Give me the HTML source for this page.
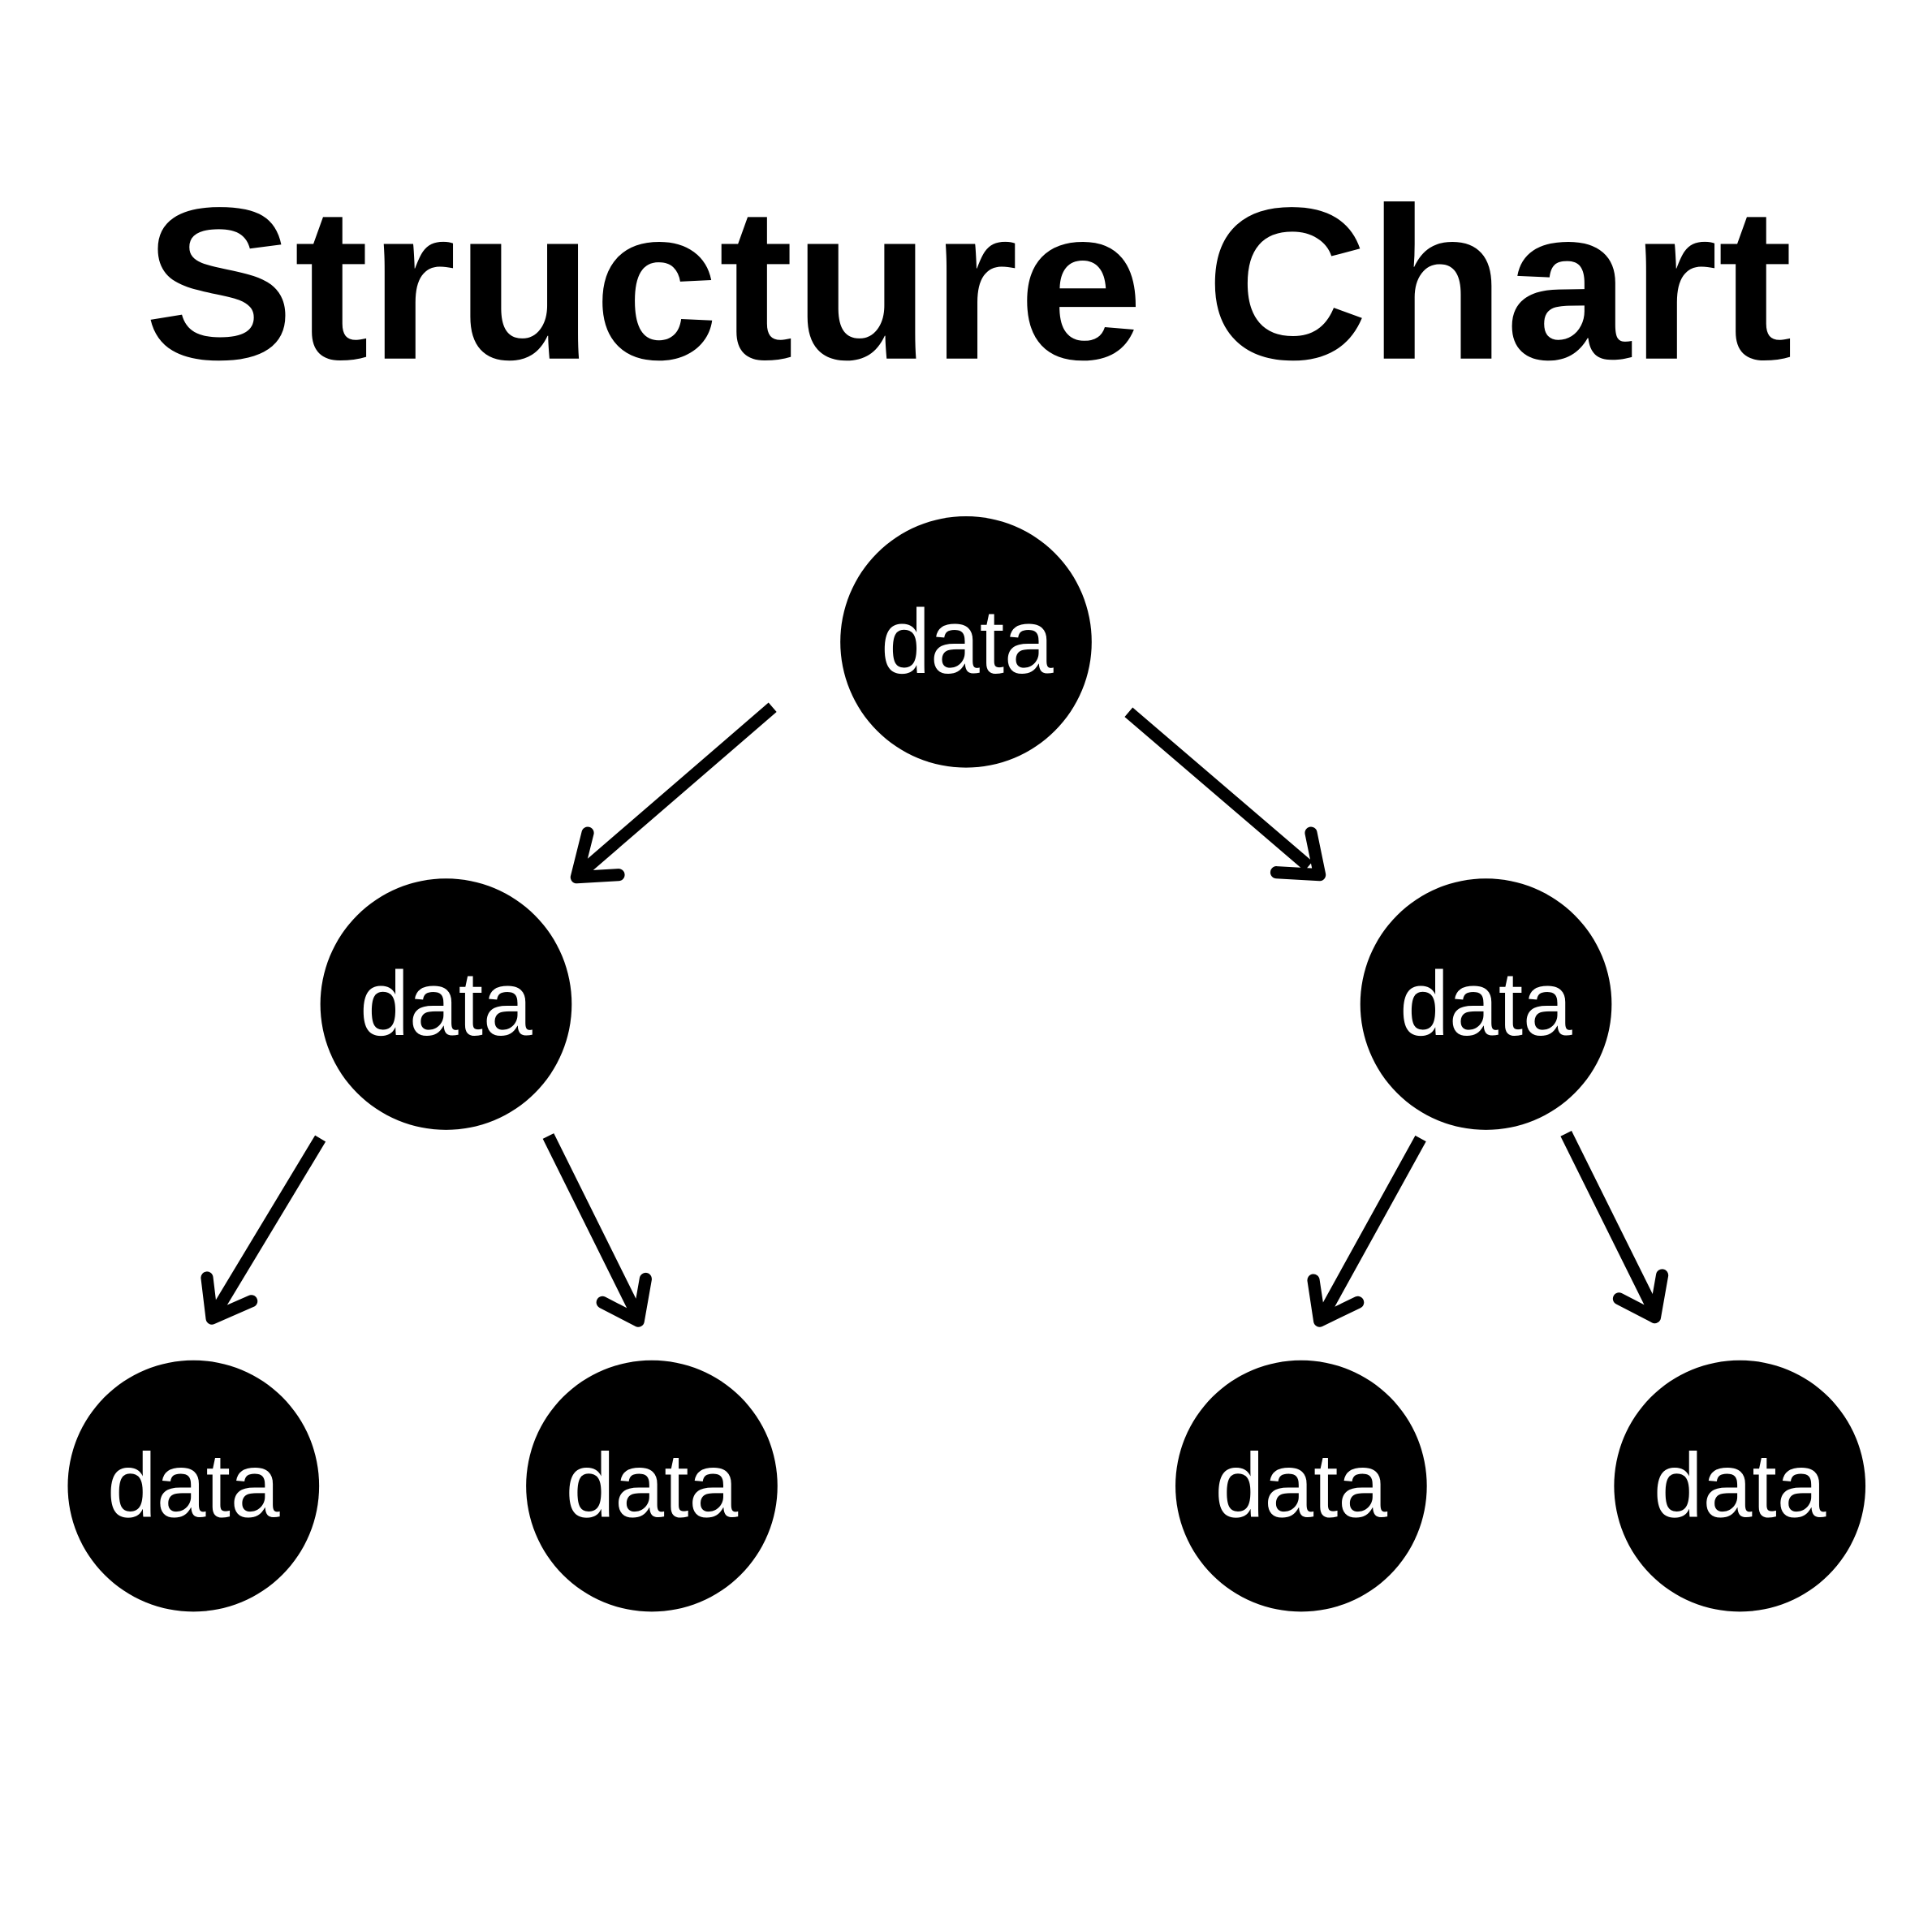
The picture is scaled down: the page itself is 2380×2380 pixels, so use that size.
<!DOCTYPE html>
<html><head><style>
html,body{margin:0;padding:0;background:#fff;}
svg{display:block;}
</style></head><body>
<svg width="2380" height="2380" viewBox="0 0 1568 1568" xmlns="http://www.w3.org/2000/svg">
<rect width="1568" height="1568" fill="#fff"/>
<text x="117" y="291" font-family="Liberation Sans, sans-serif" font-weight="bold" font-size="176" textLength="1338" lengthAdjust="spacingAndGlyphs" fill="#000">Structure Chart</text>
<g fill="#000">
<circle cx="784" cy="521" r="102"/>
<circle cx="362" cy="815" r="102"/>
<circle cx="1206" cy="815" r="102"/>
<circle cx="157" cy="1206" r="102"/>
<circle cx="529" cy="1206" r="102"/>
<circle cx="1056" cy="1206" r="102"/>
<circle cx="1412" cy="1206" r="102"/>
</g>
<g font-family="Liberation Sans, sans-serif" font-size="74" fill="#fff" text-anchor="middle">
<text x="785" y="546" textLength="140" lengthAdjust="spacingAndGlyphs">data</text>
<text x="362" y="840" textLength="140" lengthAdjust="spacingAndGlyphs">data</text>
<text x="1206" y="840" textLength="140" lengthAdjust="spacingAndGlyphs">data</text>
<text x="157" y="1231" textLength="140" lengthAdjust="spacingAndGlyphs">data</text>
<text x="529" y="1231" textLength="140" lengthAdjust="spacingAndGlyphs">data</text>
<text x="1056" y="1231" textLength="140" lengthAdjust="spacingAndGlyphs">data</text>
<text x="1412" y="1231" textLength="140" lengthAdjust="spacingAndGlyphs">data</text>
</g>
<g stroke="#000" stroke-width="10" fill="none">
<line x1="627" y1="574" x2="474" y2="706"/>
<line x1="916" y1="578" x2="1062" y2="703"/>
<line x1="260" y1="924" x2="175" y2="1065"/>
<line x1="445" y1="922" x2="517" y2="1067"/>
<line x1="1153" y1="924" x2="1074" y2="1067"/>
<line x1="1271" y1="920" x2="1343" y2="1065"/>
</g>
<g stroke="#000" stroke-width="10" fill="none" stroke-linecap="round" stroke-linejoin="round">
<polyline points="477,676 468,712 502,710"/>
<polyline points="1064,676 1071,710 1036,708"/>
<polyline points="168,1037 172,1070 204,1056"/>
<polyline points="524,1038 518,1072 489,1057"/>
<polyline points="1066,1039 1071,1072 1102,1057"/>
<polyline points="1349,1035 1343,1069 1314,1054"/>
</g>
</svg>
</body></html>
